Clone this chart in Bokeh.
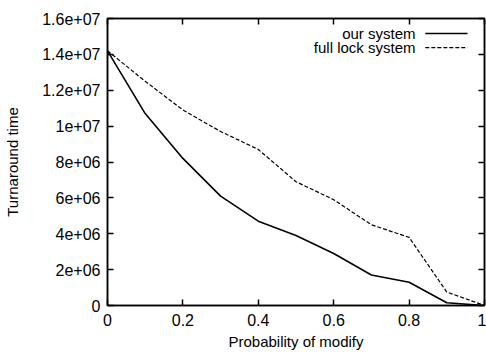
from bokeh.plotting import figure
from bokeh.models import Range1d, FixedTicker, LinearAxis, Label, Arrow
from bokeh.embed import file_html
from bokeh.resources import INLINE

prob = [0.0, 0.1, 0.2, 0.3, 0.4, 0.5, 0.6, 0.7, 0.8, 0.9, 1.0]
our_system = [1.42e7, 1.07e7, 8.2e6, 6.1e6, 4.7e6, 3.9e6, 2.9e6, 1.7e6, 1.3e6, 0.15e6, 0.0]
full_lock = [1.42e7, 1.25e7, 1.09e7, 9.7e6, 8.7e6, 6.9e6, 5.9e6, 4.5e6, 3.8e6, 0.75e6, 0.0]

x_ticks = [0.0, 0.2, 0.4, 0.6, 0.8, 1.0]
x_tick_labels = ["0", "0.2", "0.4", "0.6", "0.8", "1"]
y_ticks = [0, 2e6, 4e6, 6e6, 8e6, 1e7, 1.2e7, 1.4e7, 1.6e7]
y_tick_labels = ["0", "2e+06", "4e+06", "6e+06", "8e+06", "1e+07", "1.2e+07", "1.4e+07", "1.6e+07"]
series_names = ["our system", "full lock system"]

FONT = "Liberation Sans"
FS = "16px"
FS_LABEL = "15px"

p = figure(width=486, height=352, output_backend="svg", toolbar_location=None,
           x_range=Range1d(0, 1), y_range=Range1d(0, 1.6e7),
           min_border_left=107, min_border_right=2, min_border_top=18, min_border_bottom=47)
p.xgrid.visible = False
p.ygrid.visible = False
p.outline_line_color = "black"
p.outline_line_width = 1.5
p.background_fill_color = "white"
p.border_fill_color = "white"

def style_axis(ax, ticks, labels, show_labels):
    ax.ticker = FixedTicker(ticks=ticks)
    ax.major_label_overrides = {t: l for t, l in zip(ticks, labels)}
    ax.major_tick_in = 6
    ax.major_tick_out = 0
    ax.minor_tick_in = 0
    ax.minor_tick_out = 0
    ax.axis_line_color = "black"
    ax.axis_line_width = 1.5
    ax.major_tick_line_color = "black"
    ax.major_tick_line_width = 1.5
    ax.major_label_text_font = FONT
    ax.major_label_text_font_size = FS
    ax.major_label_text_color = "black"
    ax.axis_label_text_font = FONT
    ax.axis_label_text_font_size = FS_LABEL
    ax.axis_label_text_font_style = "normal"
    ax.axis_label_text_color = "black"
    if not show_labels:
        ax.major_label_text_alpha = 0
        ax.major_label_text_font_size = "0px"

style_axis(p.xaxis[0], x_ticks, x_tick_labels, True)
style_axis(p.yaxis[0], y_ticks, y_tick_labels, True)
p.xaxis[0].axis_label = "Probability of modify"
p.yaxis[0].axis_label = "Turnaround time"
p.xaxis[0].major_label_standoff = 8
p.yaxis[0].major_label_standoff = 7
p.xaxis[0].axis_label_standoff = 4
p.yaxis[0].axis_label_standoff = 18

top = LinearAxis()
right = LinearAxis()
style_axis(top, x_ticks, x_tick_labels, False)
style_axis(right, y_ticks, y_tick_labels, False)
top.major_label_standoff = 0
right.major_label_standoff = 0
p.add_layout(top, "above")
p.add_layout(right, "right")

p.line(prob, our_system, line_color="black", line_width=1.6)
p.line(prob, full_lock, line_color="black", line_width=1.2, line_dash="4 2")

# gnuplot-style legend (text left of line sample), top right
leg_y = [1.516e7, 1.438e7]
dashes = ["solid", "4 2"]
widths = [1.5, 1.2]
for name, yy, dsh, w in zip(series_names, leg_y, dashes, widths):
    p.add_layout(Label(x=0.817, y=yy, text=name, text_align="right", text_baseline="middle",
                       text_font=FONT, text_font_size=FS_LABEL, text_color="black"))
    p.add_layout(Arrow(x_start=0.843, y_start=yy, x_end=0.955, y_end=yy, end=None,
                       line_color="black", line_width=w, line_dash=dsh))

open("out.html", "w").write(file_html(p, INLINE))
